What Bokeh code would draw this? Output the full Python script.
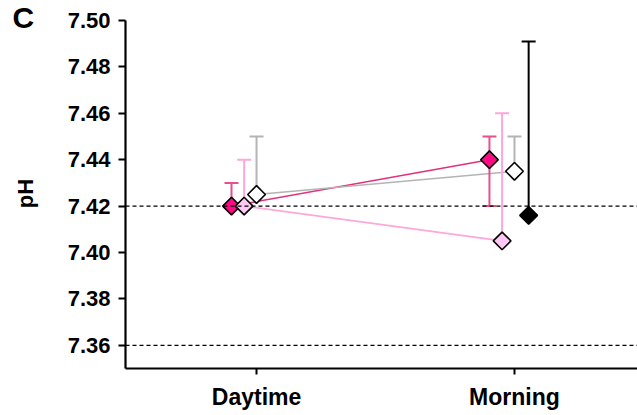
import math
from bokeh.plotting import figure
from bokeh.layouts import row
from bokeh.models import FixedTicker, PrintfTickFormatter, Span, Range1d
from bokeh.core.properties import value
from bokeh.embed import file_html
from bokeh.resources import INLINE

# ---- data ----
categories = ["Daytime", "Morning"]
series_names = ["Pink", "Light pink", "White", "Black"]

pink_mean = [7.42, 7.44]
pink_upper = [7.43, 7.45]
pink_lower = [7.42, 7.42]

lpink_mean = [7.42, 7.405]
lpink_upper = [7.44, 7.46]
lpink_lower = [7.42, 7.405]

white_mean = [7.425, 7.435]
white_upper = [7.45, 7.45]
white_lower = [7.425, 7.435]

black_mean = [None, 7.416]
black_upper = [None, 7.491]
black_lower = [None, 7.416]

y_ticks = [7.36, 7.38, 7.40, 7.42, 7.44, 7.46, 7.48, 7.50]
y_axis_bounds = (7.35, 7.50)
ref_lines = [7.42, 7.36]
panel_label = "C"
y_label = "pH"

# ---- styles ----
styles = [
    dict(mean=pink_mean, up=pink_upper, lo=pink_lower, dx=-0.097,
         line="#E2307C", err="#E8508C", fill="#FF0A84"),
    dict(mean=lpink_mean, up=lpink_upper, lo=lpink_lower, dx=-0.048,
         line="#FFA6DA", err="#FFA6DA", fill="#FFC8F4"),
    dict(mean=white_mean, up=white_upper, lo=white_lower, dx=0.0,
         line="#B4B4B4", err="#B4B4B4", fill="#FFFFFF"),
    dict(mean=black_mean, up=black_upper, lo=black_lower, dx=0.055,
         line="#000000", err="#000000", fill="#000000"),
]

FONT = "Liberation Sans"
H = 413
FRAME_H = 368          # frame occupies rows 0..368 in both figures
BOTTOM = H - FRAME_H

# ---- side strip with panel letter and y label (page-pixel coordinates) ----
side = figure(width=62, height=H, output_backend="svg", toolbar_location=None,
              x_range=Range1d(0, 62), y_range=Range1d(FRAME_H, 0),
              x_axis_type=None, y_axis_type=None,
              min_border_left=0, min_border_right=0,
              min_border_top=0, min_border_bottom=BOTTOM)
side.outline_line_color = None
side.grid.visible = False
side.border_fill_color = "white"
side.background_fill_color = "white"
side.text(x=[12], y=[17], text=[panel_label], text_font=value(FONT),
          text_font_style="bold", text_font_size="30px",
          text_align="left", text_baseline="alphabetic", text_color="black")
side.text(x=[25], y=[193], text=[y_label], text_font=value(FONT),
          text_font_style="bold", text_font_size="22px", angle=math.pi / 2,
          text_align="center", text_baseline="middle", text_color="black")

# ---- main plot ----
top_pad = 20 / 2320.0   # range headroom so the 7.50 tick sits 20px below frame top
p = figure(width=575, height=H, output_backend="svg", toolbar_location=None,
           x_range=Range1d(-0.508, 1.477),
           y_range=Range1d(y_axis_bounds[0], y_axis_bounds[1] + top_pad),
           min_border_left=63, min_border_right=0, min_border_top=0,
           min_border_bottom=BOTTOM)
p.outline_line_color = None
p.grid.visible = False
p.background_fill_color = "white"
p.border_fill_color = "white"

for r in ref_lines:
    p.add_layout(Span(location=r, dimension="width", line_color="black",
                      line_width=1.3, line_dash="4 3"))

xs_base = list(range(len(categories)))

# connecting lines
for s in styles:
    pts = [(x + s["dx"], m) for x, m in zip(xs_base, s["mean"]) if m is not None]
    if len(pts) > 1:
        p.line([a for a, _ in pts], [b for _, b in pts], line_color=s["line"], line_width=1.6)

# error bars
for s in styles:
    x0, y0, y1, cx, cy = [], [], [], [], []
    for x, m, u, l in zip(xs_base, s["mean"], s["up"], s["lo"]):
        if m is None:
            continue
        xx = x + s["dx"]
        x0.append(xx); y0.append(l); y1.append(u)
        cx.append(xx); cy.append(u)
        if l < m:
            cx.append(xx); cy.append(l)
    p.segment(x0=x0, y0=y0, x1=x0, y1=y1, line_color=s["err"], line_width=2)
    p.scatter(cx, cy, marker="dash", size=14, line_color=s["err"], line_width=2)

# markers
for s in styles:
    xs = [x + s["dx"] for x, m in zip(xs_base, s["mean"]) if m is not None]
    ys = [m for m in s["mean"] if m is not None]
    p.scatter(xs, ys, marker="square", angle=0.785398, size=12.5,
              fill_color=s["fill"], line_color="black", line_width=1.6)

# axes
p.xaxis.ticker = FixedTicker(ticks=xs_base)
p.xaxis.major_label_overrides = {i: c for i, c in enumerate(categories)}
p.yaxis.ticker = FixedTicker(ticks=y_ticks)
p.yaxis.formatter = PrintfTickFormatter(format="%.2f")
p.yaxis.bounds = y_axis_bounds
for ax in (p.xaxis, p.yaxis):
    ax.axis_line_width = 2.2
    ax.axis_line_color = "black"
    ax.major_tick_line_width = 2
    ax.major_tick_line_color = "black"
    ax.major_tick_in = 0
    ax.minor_tick_line_color = None
    ax.major_label_text_font = FONT
    ax.major_label_text_font_style = "bold"
    ax.major_label_text_color = "black"
p.xaxis.major_label_text_font_size = "23px"
p.yaxis.major_label_text_font_size = "22px"
p.yaxis.major_tick_out = 7
p.xaxis.major_tick_out = 6
p.yaxis.major_label_standoff = 8
p.xaxis.major_label_standoff = 9

layout = row(side, p, spacing=0)
open("out.html", "w").write(file_html(layout, INLINE))
